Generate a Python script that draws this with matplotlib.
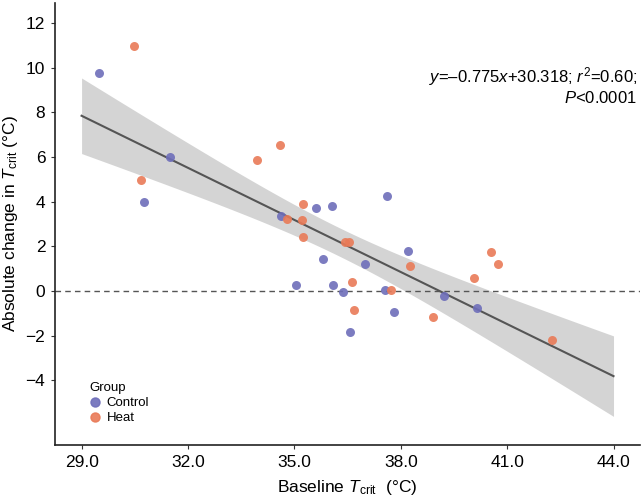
import numpy as np
import matplotlib
matplotlib.use("Agg")
import matplotlib.pyplot as plt
from matplotlib.lines import Line2D

plt.rcParams['font.family'] = ['Liberation Sans', 'DejaVu Sans']
plt.rcParams['mathtext.fontset'] = 'custom'
plt.rcParams['mathtext.rm'] = 'Liberation Sans'
plt.rcParams['mathtext.it'] = 'Liberation Sans:italic'

# Baseline Tcrit and absolute change
control_x = [29.5, 31.5, 30.77, 34.62, 35.6, 36.06, 37.6, 35.8, 37.0, 38.2,
             36.1, 35.05, 36.38, 37.55, 39.21, 40.14, 37.81, 36.57]
control_y = [9.75, 6.0, 4.0, 3.35, 3.7, 3.8, 4.24, 1.43, 1.21, 1.81,
             0.26, 0.27, -0.06, 0.04, -0.22, -0.78, -0.94, -1.83]
heat_x = [30.49, 30.67, 33.94, 34.6, 35.24, 34.8, 35.21, 35.24, 36.42, 36.55,
          38.26, 40.54, 40.74, 40.06, 36.62, 37.73, 36.67, 38.9, 42.27]
heat_y = [10.98, 4.97, 5.87, 6.53, 3.89, 3.24, 3.17, 2.43, 2.17, 2.2,
          1.11, 1.75, 1.2, 0.6, 0.4, 0.04, -0.84, -1.17, -2.2]

groups = ['Control', 'Heat']
colors = {'Control': '#6e6eba', 'Heat': '#e97a57'}
fit_text = '$y$=\u20130.775$x$+30.318; $r^2$=0.60;\n$P$<0.0001'

x_all = np.array(control_x + heat_x)
y_all = np.array(control_y + heat_y)

# linear fit with 95% confidence band
slope, intercept = np.polyfit(x_all, y_all, 1)
n = len(x_all)
resid = y_all - (slope * x_all + intercept)
s = np.sqrt(np.sum(resid ** 2) / (n - 2))
xx = np.linspace(29, 44, 100)
yy = slope * xx + intercept
se = s * np.sqrt(1 / n + (xx - x_all.mean()) ** 2 / np.sum((x_all - x_all.mean()) ** 2))
t = 2.03

fig = plt.figure(figsize=(6.43, 5.01), dpi=100)
ax = fig.add_axes([0.0855, 0.112, 0.91, 0.882])

ax.fill_between(xx, yy - t * se, yy + t * se, color='#d4d4d4', lw=0, zorder=1)
ax.plot(xx, yy, color='#555555', lw=1.5, zorder=2)
ax.axhline(0, color='#555555', lw=1.0, ls=(0, (4, 3)), zorder=2)

ax.scatter(control_x, control_y, s=42, color=colors['Control'], alpha=0.9, lw=0, zorder=3)
ax.scatter(heat_x, heat_y, s=42, color=colors['Heat'], alpha=0.9, lw=0, zorder=3)

ax.set_xlim(28.25, 44.75)
ax.set_ylim(-6.9, 12.9)
ax.set_xticks([29, 32, 35, 38, 41, 44])
ax.set_xticklabels(['29.0', '32.0', '35.0', '38.0', '41.0', '44.0'])
ax.set_yticks([-4, -2, 0, 2, 4, 6, 8, 10, 12])
ax.set_yticklabels(['\u22124', '\u22122', '0', '2', '4', '6', '8', '10', '12'])
ax.tick_params(labelsize=12.5, length=3, width=0.8, color='#333333', labelcolor='black', pad=4)

for side in ['top', 'right']:
    ax.spines[side].set_visible(False)
for side in ['left', 'bottom']:
    ax.spines[side].set_linewidth(1.2)
    ax.spines[side].set_color('#222222')

ax.set_xlabel('Baseline $T_{\\mathrm{crit}}$  (\u00b0C)', fontsize=12.5, labelpad=6)
ax.set_ylabel('Absolute change in $T_{\\mathrm{crit}}$ (\u00b0C)', fontsize=12.5, labelpad=4)

ax.text(0.995, 0.86, fit_text, transform=ax.transAxes, ha='right', va='top',
        fontsize=12, linespacing=1.2)

handles = [Line2D([], [], marker='o', ls='', color=colors[g], markersize=6.5, alpha=0.9)
           for g in groups]
leg = ax.legend(handles, groups, title='Group', loc='lower left', bbox_to_anchor=(0.05, 0.035),
                frameon=False, fontsize=9.5, title_fontsize=9.5, handlelength=0.8,
                handletextpad=0.5, labelspacing=0.2, borderaxespad=0)
leg._legend_box.align = 'left'

fig.savefig('out.png', dpi=100)
